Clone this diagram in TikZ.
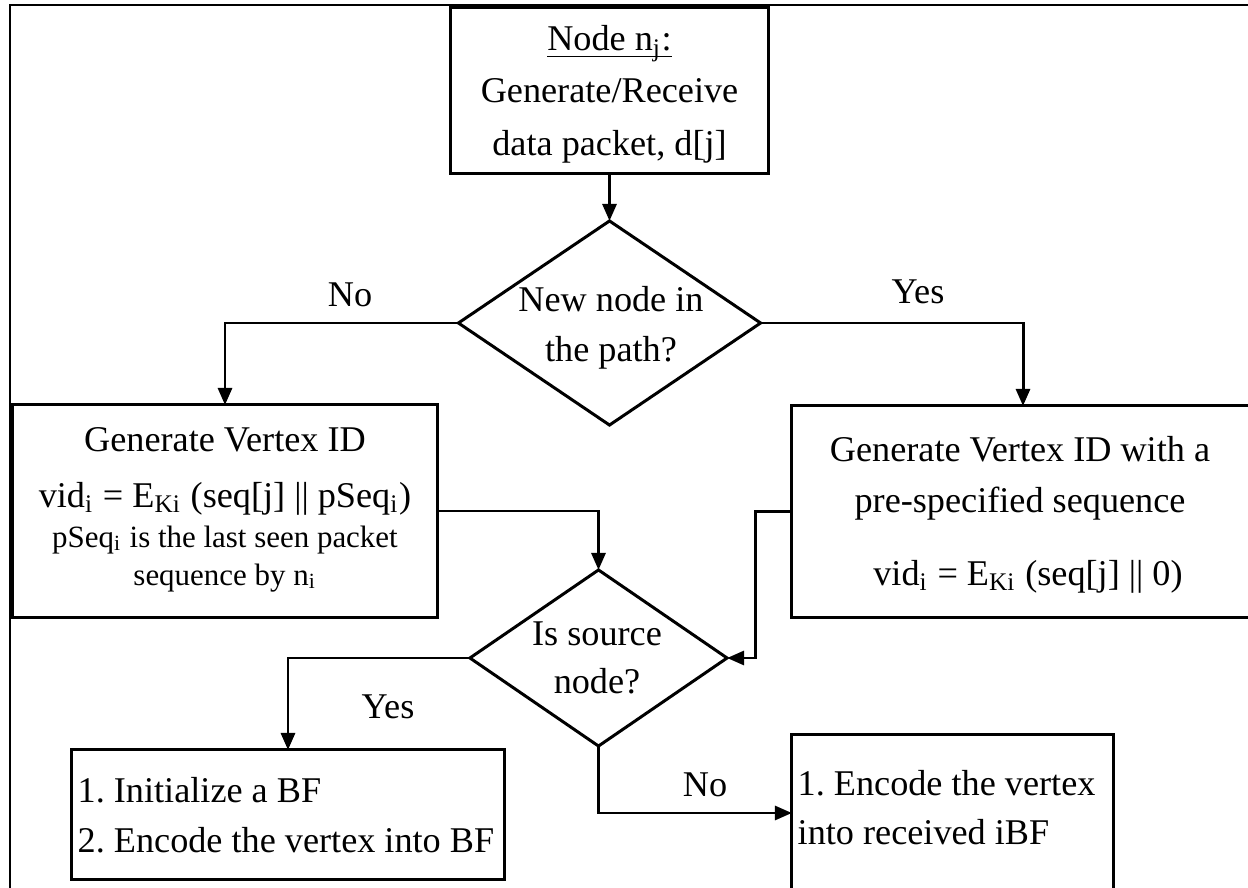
\documentclass[tikz,border=0pt]{standalone}
\usepackage{fontspec}
\setmainfont{Liberation Serif}
\usetikzlibrary{shapes.geometric,arrows.meta}
\frenchspacing
\begin{document}
\begin{tikzpicture}[x=0.01cm,y=-0.01cm,
  box/.style={draw, line width=0.85pt, inner sep=0pt, outer sep=0pt},
  dia/.style={draw, diamond, line width=0.85pt, inner sep=0pt, outer sep=0pt},
  txt/.style={anchor=base, inner sep=0pt, font=\fontsize{10.3}{13}\selectfont},
  stxt/.style={anchor=base, inner sep=0pt, font=\fontsize{8.8}{10}\selectfont},
  ltxt/.style={anchor=base west, inner sep=0pt, font=\fontsize{10.3}{13}\selectfont},
  lab/.style={anchor=center, inner sep=0pt, font=\fontsize{10.3}{13}\selectfont},
  arr/.style={line width=0.85pt, -{Triangle[length=0.17cm,width=0.14cm]}},
  frame/.style={line width=0.85pt}]
\useasboundingbox (0,0) rectangle (1248,888);
\clip (0,0) rectangle (1248,888);
\fill[white] (0,0) rectangle (1248,888);

% outer frame
\coordinate (fa) at (10,900);
\coordinate (fb) at (10,5);
\coordinate (fc) at (1260,5);
\draw[frame] (fa) -- (fb) -- (fc);

% shapes
\node[box, minimum width=3.17cm, minimum height=1.65cm] (start) at (609.5,90.5) {};
\node[dia, minimum width=3.02cm, minimum height=2.04cm] (dec1) at (609.5,323) {};
\node[box, minimum width=4.24cm, minimum height=2.12cm] (lbox) at (225,511) {};
\node[box, minimum width=4.62cm, minimum height=2.11cm] (rbox) at (1023,511.5) {};
\node[dia, minimum width=2.57cm, minimum height=1.76cm] (dec2) at (598.5,658) {};
\node[box, minimum width=4.32cm, minimum height=1.29cm] (blbox) at (288,814.5) {};
\node[box, minimum width=3.21cm, minimum height=1.56cm] (brbox) at (952.5,813) {};

% connectors
\draw[arr] (start.south) -- (dec1.north);
\draw[arr] (dec1.west) -| (lbox.north);
\draw[arr] (dec1.east) -| (rbox.north);
\draw[arr] (lbox.east) -| (dec2.north);
\coordinate (rj) at (755,0);
\draw[arr] (rbox.west) -| (rj |- dec2.east) -- (dec2.east);
\draw[arr] (dec2.west) -| (blbox.north);
\draw[arr] (dec2.south) |- (brbox.west);

% connector labels
\node[lab] (no1) at (350,295) {No};
\node[lab] (yes1) at (918,292) {Yes};
\node[lab] (yes2) at (388,707) {Yes};
\node[lab] (no2) at (705,785) {No};

% texts: start box
\node[txt] (st1) at (609.5,51) {\underline{Node n\smash{\textsubscript{j}}:}};
\node[txt] (st2) at (609.5,103) {Generate/Receive};
\node[txt] (st3) at (609.5,156) {data packet, d[j]};

% decision 1
\node[txt] (d1a) at (611,311) {New node in};
\node[txt] (d1b) at (611,361) {the path?};

% left box
\node[txt] (l1) at (225,452) {Generate Vertex ID};
\node[txt] (l2) at (225,507) {vid\textsubscript{i} = E\textsubscript{Ki} (seq[j] || pSeq\textsubscript{i})};
\node[stxt] (l3) at (225,547) {pSeq\textsubscript{i} is the last seen packet};
\node[stxt] (l4) at (225,585) {sequence by n\textsubscript{i}};

% right box
\node[txt] (r1) at (1020,462) {Generate Vertex ID with a};
\node[txt] (r2) at (1020,512) {pre-specified sequence};
\node[txt] (r3) at (1028,585) {vid\textsubscript{i} = E\textsubscript{Ki} (seq[j] || 0)};

% decision 2
\node[txt] (d2a) at (597,645) {Is source};
\node[txt] (d2b) at (597,693) {node?};

% bottom-left box
\node[ltxt] (bl1) at (77,802) {1. Initialize a BF};
\node[ltxt] (bl2) at (77,852) {2. Encode the vertex into BF};

% bottom-right box
\node[ltxt] (br1) at (797,795) {1. Encode the vertex};
\node[ltxt] (br2) at (797,844) {into received iBF};
\end{tikzpicture}
\end{document}
